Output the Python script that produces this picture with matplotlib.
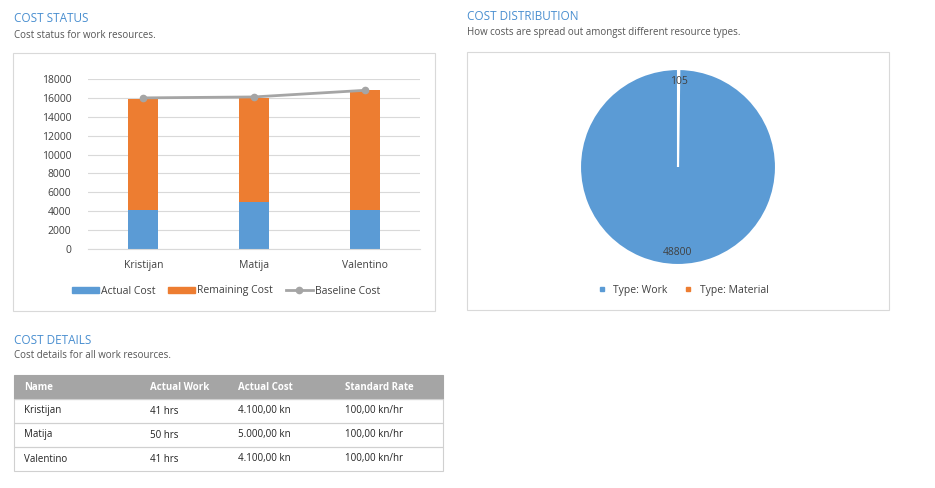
import matplotlib
matplotlib.use("Agg")
import matplotlib.pyplot as plt
from matplotlib.patches import Rectangle
from matplotlib.lines import Line2D

plt.rcParams['font.family'] = ['Open Sans', 'DejaVu Sans']

names = ["Kristijan", "Matija", "Valentino"]
actual_cost = [4100, 5000, 4100]
remaining_cost = [11800, 11000, 12700]
baseline_cost = [16000, 16100, 16800]

pie_labels = ["Type: Material", "Type: Work"]
pie_values = [105, 48800]

table_cols = ["Name", "Actual Work", "Actual Cost", "Standard Rate"]
table_rows = [
    ["Kristijan", "41 hrs", "4.100,00 kn", "100,00 kn/hr"],
    ["Matija", "50 hrs", "5.000,00 kn", "100,00 kn/hr"],
    ["Valentino", "41 hrs", "4.100,00 kn", "100,00 kn/hr"],
]

BLUE = "#5b9bd5"; ORANGE = "#ed7d31"; GRAY = "#a5a5a5"; TITLE = "#4a8fd0"
W, H = 935, 488
fig = plt.figure(figsize=(W/100, H/100), dpi=100)

def fx(x): return x / W
def fy(y): return 1 - y / H

def box(x0, y0, x1, y1, fc="none", ec="#d9d9d9", lw=0.8):
    fig.patches.append(Rectangle((fx(x0), fy(y1)), fx(x1)-fx(x0), fy(y0)-fy(y1),
                                 transform=fig.transFigure, fc=fc, ec=ec, lw=lw))

# Titles
fig.text(fx(14), fy(18), "COST STATUS", color=TITLE, fontsize=8.5, va="center")
fig.text(fx(14), fy(35), "Cost status for work resources.", color="#555555", fontsize=7, va="center")
fig.text(fx(467), fy(17), "COST DISTRIBUTION", color=TITLE, fontsize=8.5, va="center")
fig.text(fx(467), fy(33), "How costs are spread out amongst different resource types.", color="#555555", fontsize=7, va="center")
fig.text(fx(14), fy(341), "COST DETAILS", color=TITLE, fontsize=8.5, va="center")
fig.text(fx(14), fy(355), "Cost details for all work resources.", color="#555555", fontsize=7, va="center")

# Bar chart panel
box(13, 53, 435, 311)
ax = fig.add_axes([fx(88), fy(249), fx(420)-fx(88), fy(79)-fy(249)])
x = range(len(names))
ax.bar(x, actual_cost, width=0.27, color=BLUE, zorder=2)
ax.bar(x, remaining_cost, bottom=actual_cost, width=0.27, color=ORANGE, zorder=2)
ax.plot(x, baseline_cost, color=GRAY, lw=2, marker="o", ms=4.5, zorder=3)
ax.set_ylim(0, 18000)
ax.set_xlim(-0.5, 2.5)
ax.set_yticks(range(0, 18001, 2000))
ax.set_xticks(list(x))
ax.set_xticklabels(names)
ax.grid(axis="y", color="#d9d9d9", lw=0.8, zorder=0)
for s in ax.spines.values(): s.set_visible(False)
ax.spines["bottom"].set_visible(True); ax.spines["bottom"].set_color("#d9d9d9")
ax.tick_params(length=0, labelsize=7.5, colors="#404040")
ax.tick_params(axis="y", pad=12)
ax.tick_params(axis="x", pad=8)
handles = [Rectangle((0, 0), 1, 1, color=BLUE), Rectangle((0, 0), 1, 1, color=ORANGE),
           Line2D([], [], color=GRAY, lw=2, marker="o", ms=4.5)]
fig.legend(handles, ["Actual Cost", "Remaining Cost", "Baseline Cost"], loc="center",
           bbox_to_anchor=(fx(226), fy(291)), ncol=3, frameon=False, fontsize=7.5,
           handlelength=2.6, handleheight=0.6, columnspacing=1.2, handletextpad=0.2,
           labelcolor="#404040")

# Pie panel
box(467, 52, 889, 310)
r = 98
pax = fig.add_axes([fx(678-r), fy(167+r), 2*r/W, 2*r/H])
pax.pie(pie_values, colors=[ORANGE, BLUE], startangle=90, counterclock=False,
        labels=[str(v) for v in pie_values], labeldistance=0.87,
        wedgeprops=dict(edgecolor="white", linewidth=1.5),
        textprops=dict(fontsize=7.5, color="#404040", ha="center", va="center"))
pax.set_aspect("auto")
pax.set_xlim(-1, 1); pax.set_ylim(-1, 1)
ph = [Line2D([], [], ls="", marker="s", ms=3, color=BLUE), Line2D([], [], ls="", marker="s", ms=3, color=ORANGE)]
fig.legend(ph, ["Type: Work", "Type: Material"], loc="center", bbox_to_anchor=(fx(680), fy(290)),
           ncol=2, frameon=False, fontsize=7.5, handletextpad=0.1, columnspacing=1.0, labelcolor="#404040")

# Table
colx = [24, 150, 238, 345]
box(14, 375, 443, 399, fc=GRAY, ec=GRAY)
for cx, c in zip(colx, table_cols):
    fig.text(fx(cx), fy(387), c, color="white", fontsize=7, fontweight="bold", va="center")
for i, row in enumerate(table_rows):
    y0 = 399 + 24*i
    box(14, y0, 443, y0+24, ec="#d0d0d0")
    for cx, v in zip(colx, row):
        fig.text(fx(cx), fy(y0+12), v, color="#222222", fontsize=7, va="center")

fig.savefig("out.png", dpi=100)
